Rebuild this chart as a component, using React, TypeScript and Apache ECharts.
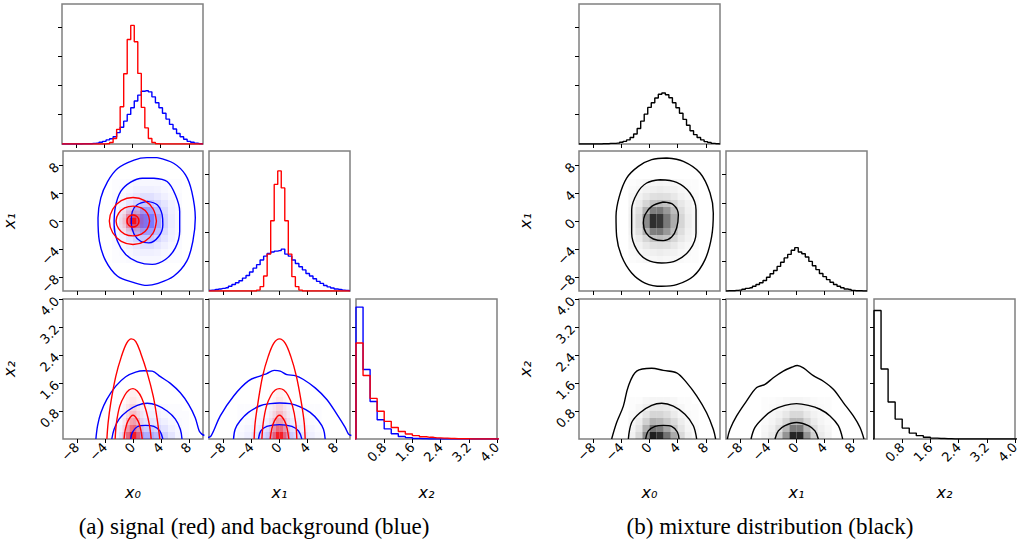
import React, { useEffect, useRef } from "react";
import * as echarts from "echarts";

// ---------- tick labels ----------
const TICKS_X01 = [-8, -4, 0, 4, 8];
const TICKS_X2 = [0.8, 1.6, 2.4, 3.2, 4.0];
const TICKS_HIST = [1, 2, 3, 4];

// ---------- 1D histograms ----------
const CENTERS_X01 = [-10, -9.5, -9, -8.5, -8, -7.5, -7, -6.5, -6, -5.5, -5, -4.5, -4, -3.5, -3, -2.5, -2, -1.5, -1, -0.5, 0, 0.5, 1, 1.5, 2, 2.5, 3, 3.5, 4, 4.5, 5, 5.5, 6, 6.5, 7, 7.5, 8, 8.5, 9, 9.5, 10];
const RED_X0 = [0, 0, 0, 0, 0, 0, 0, 0, 0, 0, 0, 0, 0, 0.01, 0.05, 0.19, 0.5, 1.27, 2.4, 3.57, 4.05, 3.49, 2.41, 1.25, 0.55, 0.19, 0.05, 0.01, 0, 0, 0, 0, 0, 0, 0, 0, 0, 0, 0, 0, 0];
const BLUE_X0 = [0, 0, 0, 0, 0, 0, 0.01, 0.01, 0.01, 0.02, 0.03, 0.06, 0.09, 0.14, 0.18, 0.25, 0.39, 0.57, 0.78, 1.01, 1.24, 1.47, 1.67, 1.8, 1.82, 1.78, 1.61, 1.41, 1.24, 1.05, 0.85, 0.67, 0.51, 0.36, 0.25, 0.16, 0.09, 0.06, 0.03, 0.01, 0.01];
const RED_X1 = [0, 0, 0, 0, 0, 0, 0, 0, 0, 0, 0, 0, 0, 0, 0.03, 0.15, 0.51, 1.26, 2.4, 3.64, 4.1, 3.52, 2.4, 1.26, 0.49, 0.15, 0.03, 0, 0, 0, 0, 0, 0, 0, 0, 0, 0, 0, 0, 0, 0];
const BLUE_X1 = [0.02, 0.03, 0.05, 0.07, 0.09, 0.11, 0.16, 0.22, 0.28, 0.35, 0.44, 0.53, 0.65, 0.78, 0.9, 1.06, 1.19, 1.28, 1.33, 1.36, 1.38, 1.43, 1.26, 1.19, 1.06, 0.94, 0.83, 0.72, 0.6, 0.51, 0.42, 0.33, 0.26, 0.19, 0.14, 0.1, 0.07, 0.05, 0.03, 0.02, 0.01];
const MIX_X0 = [0, 0, 0, 0, 0, 0, 0, 0.01, 0.01, 0.02, 0.02, 0.03, 0.06, 0.09, 0.14, 0.22, 0.34, 0.53, 0.78, 1.02, 1.25, 1.41, 1.57, 1.7, 1.74, 1.68, 1.58, 1.41, 1.24, 1.05, 0.84, 0.64, 0.45, 0.32, 0.22, 0.14, 0.08, 0.05, 0.02, 0.01, 0];
const MIX_X1 = [0, 0.01, 0.01, 0.02, 0.03, 0.06, 0.09, 0.11, 0.16, 0.22, 0.28, 0.36, 0.47, 0.59, 0.7, 0.84, 0.98, 1.13, 1.25, 1.39, 1.48, 1.33, 1.27, 1.16, 1.01, 0.86, 0.73, 0.6, 0.49, 0.39, 0.3, 0.22, 0.16, 0.11, 0.07, 0.05, 0.02, 0.01, 0.01, 0, 0];

const CENTERS_X2 = [-0.1, 0.1, 0.3, 0.5, 0.7, 0.9, 1.1, 1.3, 1.5, 1.7, 1.9, 2.1, 2.3, 2.5, 2.7, 2.9, 3.1, 3.3, 3.5, 3.7, 3.9, 4.1];
const BLUE_X2 = [0, 4.71, 2.48, 1.34, 0.69, 0.36, 0.19, 0.09, 0.05, 0.02, 0.01, 0, 0, 0, 0, 0, 0, 0, 0, 0, 0, 0];
const RED_X2 = [0, 3.43, 2.27, 1.45, 0.99, 0.63, 0.41, 0.27, 0.18, 0.12, 0.08, 0.06, 0.04, 0.03, 0.02, 0.01, 0.01, 0, 0, 0, 0, 0];
const MIX_X2 = [0, 4.59, 2.5, 1.32, 0.71, 0.39, 0.21, 0.12, 0.06, 0.03, 0.02, 0.01, 0, 0, 0, 0, 0, 0, 0, 0, 0, 0];

// ---------- 2D histogram shading (cell centres + intensities) ----------
const B01_XC = [-2.5, -1.5, -0.5, 0.5, 1.5, 2.5, 3.5, 4.5, 5.5, 6.5];
const B01_YC = [5.5, 4.5, 3.5, 2.5, 1.5, 0.5, -0.5, -1.5, -2.5, -3.5, -4.5, -5.5];
const BLUE_01 = [
  [0.01, 0.01, 0.02, 0.03, 0.03, 0.03, 0.03, 0.02, 0.01, 0.01],
  [0.01, 0.02, 0.03, 0.05, 0.06, 0.06, 0.05, 0.03, 0.02, 0.01],
  [0.02, 0.03, 0.06, 0.09, 0.12, 0.12, 0.09, 0.06, 0.03, 0.02],
  [0.02, 0.05, 0.1, 0.16, 0.22, 0.22, 0.16, 0.1, 0.05, 0.02],
  [0.03, 0.06, 0.14, 0.26, 0.38, 0.38, 0.26, 0.14, 0.06, 0.03],
  [0.03, 0.07, 0.17, 0.34, 0.52, 0.52, 0.34, 0.17, 0.07, 0.03],
  [0.03, 0.07, 0.17, 0.34, 0.52, 0.52, 0.34, 0.17, 0.07, 0.03],
  [0.03, 0.06, 0.14, 0.26, 0.38, 0.38, 0.26, 0.14, 0.06, 0.03],
  [0.02, 0.05, 0.1, 0.16, 0.22, 0.22, 0.16, 0.1, 0.05, 0.02],
  [0.02, 0.03, 0.06, 0.09, 0.12, 0.12, 0.09, 0.06, 0.03, 0.02],
  [0.01, 0.02, 0.03, 0.05, 0.06, 0.06, 0.05, 0.03, 0.02, 0.01],
  [0.01, 0.01, 0.02, 0.03, 0.03, 0.03, 0.03, 0.02, 0.01, 0.01],
];
const R01_C = [-1.75, -1.25, -0.75, -0.25, 0.25, 0.75, 1.25, 1.75];
const R01_YC = [1.75, 1.25, 0.75, 0.25, -0.25, -0.75, -1.25, -1.75];
const RED_01 = [
  [0.02, 0.04, 0.06, 0.08, 0.08, 0.06, 0.04, 0.02],
  [0.04, 0.08, 0.15, 0.2, 0.2, 0.15, 0.08, 0.04],
  [0.06, 0.15, 0.35, 0.5, 0.5, 0.35, 0.15, 0.06],
  [0.08, 0.2, 0.5, 0.9, 0.9, 0.5, 0.2, 0.08],
  [0.08, 0.2, 0.5, 0.9, 0.9, 0.5, 0.2, 0.08],
  [0.06, 0.15, 0.35, 0.5, 0.5, 0.35, 0.15, 0.06],
  [0.04, 0.08, 0.15, 0.2, 0.2, 0.15, 0.08, 0.04],
  [0.02, 0.04, 0.06, 0.08, 0.08, 0.06, 0.04, 0.02],
];
const RX2_XC = [-1.25, -0.75, -0.25, 0.25, 0.75, 1.25];
const RX2_YC = [1.3, 1.1, 0.9, 0.7, 0.5, 0.3, 0.1];
const RED_02 = [
  [0.02, 0.04, 0.06, 0.06, 0.04, 0.02],
  [0.02, 0.05, 0.09, 0.09, 0.05, 0.02],
  [0.03, 0.08, 0.14, 0.14, 0.08, 0.03],
  [0.05, 0.12, 0.22, 0.22, 0.12, 0.05],
  [0.07, 0.2, 0.32, 0.32, 0.2, 0.07],
  [0.1, 0.32, 0.52, 0.52, 0.32, 0.1],
  [0.18, 0.5, 0.85, 0.85, 0.5, 0.18],
];
const RED_12 = [
  [0.02, 0.04, 0.06, 0.06, 0.04, 0.02],
  [0.02, 0.05, 0.09, 0.09, 0.05, 0.02],
  [0.03, 0.08, 0.14, 0.14, 0.08, 0.03],
  [0.05, 0.12, 0.22, 0.22, 0.12, 0.05],
  [0.07, 0.2, 0.32, 0.32, 0.2, 0.07],
  [0.1, 0.32, 0.52, 0.52, 0.32, 0.1],
  [0.18, 0.5, 0.85, 0.85, 0.5, 0.18],
];
const X2_YC = [0.9, 0.7, 0.5, 0.3, 0.1];
const B02_XC = [-2.5, -1.5, -0.5, 0.5, 1.5, 2.5, 3.5, 4.5, 5.5, 6.5, 7.5];
const BLUE_02 = [
  [0.01, 0.01, 0.02, 0.03, 0.04, 0.04, 0.03, 0.02, 0.01, 0.01, 0],
  [0.01, 0.02, 0.03, 0.05, 0.06, 0.06, 0.05, 0.03, 0.02, 0.01, 0.01],
  [0.02, 0.03, 0.06, 0.09, 0.11, 0.11, 0.09, 0.06, 0.03, 0.02, 0.01],
  [0.03, 0.06, 0.11, 0.16, 0.2, 0.2, 0.16, 0.11, 0.06, 0.03, 0.01],
  [0.04, 0.1, 0.18, 0.27, 0.32, 0.32, 0.27, 0.18, 0.1, 0.04, 0.02],
];
const B12_XC = [-5.5, -4.5, -3.5, -2.5, -1.5, -0.5, 0.5, 1.5, 2.5, 3.5, 4.5, 5.5];
const BLUE_12 = [
  [0.01, 0.01, 0.01, 0.02, 0.03, 0.03, 0.03, 0.03, 0.02, 0.01, 0.01, 0.01],
  [0.01, 0.01, 0.02, 0.03, 0.04, 0.05, 0.05, 0.04, 0.03, 0.02, 0.01, 0.01],
  [0.01, 0.02, 0.04, 0.05, 0.07, 0.09, 0.09, 0.07, 0.05, 0.04, 0.02, 0.01],
  [0.02, 0.04, 0.06, 0.09, 0.13, 0.15, 0.15, 0.13, 0.09, 0.06, 0.04, 0.02],
  [0.03, 0.06, 0.1, 0.15, 0.2, 0.23, 0.23, 0.2, 0.15, 0.1, 0.06, 0.03],
];
const K01_XC = [-2.5, -1.5, -0.5, 0.5, 1.5, 2.5, 3.5, 4.5, 5.5, 6.5];
const K01_YC = [5.5, 4.5, 3.5, 2.5, 1.5, 0.5, -0.5, -1.5, -2.5, -3.5, -4.5, -5.5];
const BLACK_01 = [
  [0.01, 0.02, 0.03, 0.03, 0.04, 0.03, 0.03, 0.02, 0.01, 0.01],
  [0.02, 0.03, 0.05, 0.06, 0.07, 0.06, 0.05, 0.03, 0.02, 0.01],
  [0.03, 0.05, 0.09, 0.12, 0.13, 0.12, 0.09, 0.05, 0.03, 0.02],
  [0.04, 0.08, 0.16, 0.24, 0.26, 0.23, 0.16, 0.09, 0.05, 0.02],
  [0.05, 0.12, 0.3, 0.5, 0.52, 0.4, 0.26, 0.13, 0.06, 0.03],
  [0.06, 0.15, 0.45, 0.82, 0.78, 0.52, 0.32, 0.16, 0.07, 0.03],
  [0.06, 0.15, 0.45, 0.82, 0.78, 0.52, 0.32, 0.16, 0.07, 0.03],
  [0.05, 0.12, 0.3, 0.5, 0.52, 0.4, 0.26, 0.13, 0.06, 0.03],
  [0.04, 0.08, 0.16, 0.24, 0.26, 0.23, 0.16, 0.09, 0.05, 0.02],
  [0.03, 0.05, 0.09, 0.12, 0.13, 0.12, 0.09, 0.05, 0.03, 0.02],
  [0.02, 0.03, 0.05, 0.06, 0.07, 0.06, 0.05, 0.03, 0.02, 0.01],
  [0.01, 0.02, 0.03, 0.03, 0.04, 0.03, 0.03, 0.02, 0.01, 0.01],
];
const K2_YC = [1.1, 0.9, 0.7, 0.5, 0.3, 0.1];
const K02_XC = [-2.5, -1.5, -0.5, 0.5, 1.5, 2.5, 3.5, 4.5, 5.5, 6.5];
const BLACK_02 = [
  [0.01, 0.01, 0.03, 0.04, 0.04, 0.04, 0.03, 0.01, 0.01, 0],
  [0.01, 0.03, 0.06, 0.09, 0.09, 0.08, 0.05, 0.03, 0.01, 0.01],
  [0.02, 0.04, 0.1, 0.16, 0.16, 0.13, 0.08, 0.04, 0.02, 0.01],
  [0.03, 0.07, 0.18, 0.3, 0.28, 0.21, 0.14, 0.07, 0.03, 0.01],
  [0.04, 0.1, 0.3, 0.55, 0.5, 0.35, 0.22, 0.1, 0.04, 0.02],
  [0.05, 0.15, 0.45, 0.88, 0.82, 0.55, 0.33, 0.15, 0.06, 0.02],
];
const K12_XC = [-4.5, -3.5, -2.5, -1.5, -0.5, 0.5, 1.5, 2.5, 3.5, 4.5];
const BLACK_12 = [
  [0.01, 0.01, 0.02, 0.03, 0.04, 0.04, 0.03, 0.02, 0.01, 0.01],
  [0.01, 0.02, 0.03, 0.05, 0.08, 0.08, 0.05, 0.03, 0.02, 0.01],
  [0.01, 0.03, 0.05, 0.09, 0.15, 0.15, 0.09, 0.05, 0.03, 0.01],
  [0.02, 0.04, 0.08, 0.16, 0.28, 0.28, 0.16, 0.08, 0.04, 0.02],
  [0.03, 0.06, 0.13, 0.28, 0.52, 0.52, 0.28, 0.13, 0.06, 0.03],
  [0.04, 0.08, 0.18, 0.42, 0.85, 0.85, 0.42, 0.18, 0.08, 0.04],
];

// ---------- contour lines ----------
const BLUE01_OUT = [[3.45, 9.05], [5.8, 8.25], [7.5, 6.6], [8.4, 4.2], [8.9, 0.43], [8.55, -2.9], [7.7, -5.7], [5.8, -7.9], [3.45, -8.95], [2.0, -9.2], [0.15, -8.8], [-2.2, -7.9], [-3.9, -5.7], [-4.8, -2.9], [-5.0, 0.43], [-4.6, 3.3], [-3.65, 5.6], [-2.2, 7.5], [0.15, 8.7], [2.0, 9.05], [3.45, 9.05]];
const BLUE01_MID = [[2.98, 6.11], [4.87, 5.64], [6.05, 3.74], [6.67, 1.37], [6.67, -1.47], [6.05, -3.84], [4.63, -5.5], [2.74, -6.2], [0.61, -5.83], [-1.04, -4.79], [-2.22, -2.89], [-2.7, -0.52], [-2.55, 1.85], [-1.75, 4.22], [-0.33, 5.55], [1.32, 6.11], [2.98, 6.11]];
const BLUE01_IN = [[2.03, 2.8], [3.45, 2.32], [4.16, 0.9], [4.26, -0.52], [3.69, -2.18], [2.27, -3.13], [1.09, -2.89], [0.14, -1.85], [-0.24, -0.28], [-0.09, 1.37], [0.61, 2.32], [2.03, 2.8]];
const RED01_OUT = [[3.35, 0], [2.9, 1.68], [1.68, 2.9], [0, 3.35], [-1.68, 2.9], [-2.9, 1.68], [-3.38, 0], [-2.9, -1.68], [-1.68, -2.9], [0, -3.35], [1.68, -2.9], [2.9, -1.68], [3.35, 0]];
const RED01_MID = [[2.38, 0], [2.06, 1.08], [1.19, 1.86], [0, 2.12], [-1.19, 1.86], [-2.06, 1.08], [-2.42, 0], [-2.06, -1.08], [-1.19, -1.86], [0, -2.12], [1.19, -1.86], [2.06, -1.08], [2.38, 0]];
const RED01_IN = [[0.85, 0], [0.74, 0.43], [0.43, 0.74], [0, 0.85], [-0.43, 0.74], [-0.74, 0.43], [-0.85, 0], [-0.74, -0.43], [-0.43, -0.74], [0, -0.85], [0.43, -0.74], [0.74, -0.43], [0.85, 0]];

const RED02_OUT = [[-3.73, 0], [-3.55, 0.47], [-3.17, 1.04], [-2.46, 1.79], [-1.65, 2.36], [-0.9, 2.74], [-0.24, 2.86], [0.38, 2.79], [1.09, 2.46], [2.03, 1.89], [2.88, 1.23], [3.45, 0.57], [3.83, 0]];
const RED02_MID = [[-2.55, 0], [-2.36, 0.47], [-1.89, 0.94], [-1.18, 1.25], [-0.57, 1.4], [0, 1.44], [0.61, 1.37], [1.23, 1.18], [1.89, 0.8], [2.36, 0.38], [2.6, 0]];
const RED02_IN = [[-1.28, 0], [-1.09, 0.28], [-0.71, 0.52], [0, 0.68], [0.71, 0.52], [1.09, 0.28], [1.32, 0]];
const BLUE02_OUT = [[-5.3, 0], [-5.06, 0.38], [-4.59, 0.75], [-3.74, 1.13], [-2.46, 1.51], [-1.04, 1.78], [0.38, 1.91], [1.56, 1.95], [2.74, 1.94], [3.92, 1.78], [5.34, 1.59], [6.76, 1.32], [7.94, 0.99], [8.89, 0.61], [9.46, 0.23], [9.83, 0.14], [10.2, 0.1]];
const BLUE02_MID = [[-3.03, 0], [-2.7, 0.28], [-1.99, 0.57], [-0.8, 0.8], [0.61, 0.96], [2.03, 1.02], [3.45, 0.96], [4.87, 0.8], [6.05, 0.57], [6.76, 0.28], [7.0, 0]];
const BLUE02_IN = [[-0.33, 0], [-0.09, 0.19], [0.61, 0.35], [1.8, 0.39], [2.98, 0.36], [3.83, 0.23], [4.26, 0]];

const RED12_OUT = [[-3.6, 0], [-3.45, 0.47], [-3.05, 1.04], [-2.4, 1.79], [-1.6, 2.36], [-0.8, 2.74], [0, 2.86], [0.8, 2.74], [1.6, 2.36], [2.4, 1.79], [3.1, 1.04], [3.5, 0.47], [3.64, 0]];
const RED12_MID = [[-2.5, 0], [-2.3, 0.47], [-1.85, 0.94], [-1.2, 1.25], [-0.6, 1.4], [0, 1.44], [0.6, 1.4], [1.2, 1.25], [1.85, 0.94], [2.3, 0.47], [2.46, 0]];
const RED12_IN = [[-1.32, 0], [-1.1, 0.28], [-0.72, 0.52], [0, 0.68], [0.72, 0.52], [1.1, 0.28], [1.32, 0]];
const BLUE12_OUT = [[-10.2, 0.04], [-9.7, 0.09], [-8.4, 0.66], [-6.5, 1.23], [-4.4, 1.66], [-2.5, 1.82], [-1.8, 1.87], [-0.76, 1.96], [0.1, 1.94], [1.04, 1.84], [2.22, 1.81], [3.4, 1.7], [5.06, 1.46], [6.71, 1.13], [8.13, 0.71], [9.31, 0.33], [9.79, 0.14], [10.2, 0.1]];
const BLUE12_MID = [[-6.52, 0], [-6.29, 0.28], [-5.58, 0.52], [-4.4, 0.76], [-2.74, 0.95], [-1.32, 1.01], [0, 1.03], [1.51, 1.01], [2.93, 0.92], [4.35, 0.76], [5.53, 0.52], [6.24, 0.28], [6.48, 0]];
const BLUE12_IN = [[-2.98, 0], [-2.65, 0.23], [-1.8, 0.36], [0, 0.41], [1.75, 0.36], [2.7, 0.23], [3.17, 0]];

const BLACK01_OUT = [[2.43, 9.0], [4.8, 8.52], [7.17, 6.86], [8.59, 4.0], [9.05, 1.14], [8.82, -2.19], [7.88, -5.52], [6.22, -7.9], [3.85, -9.1], [1.73, -9.33], [-0.64, -8.86], [-2.53, -7.43], [-3.95, -5.05], [-4.66, -2.19], [-4.75, 0.67], [-4.28, 3.52], [-3.24, 6.14], [-1.58, 7.81], [0.31, 8.76], [2.43, 9.0]];
const BLACK01_MID = [[1.49, 5.9], [3.85, 5.52], [5.74, 4.0], [6.6, 1.62], [6.6, -1.71], [5.74, -4.1], [3.85, -5.62], [1.73, -6.0], [-0.4, -5.52], [-1.82, -4.1], [-2.53, -1.71], [-2.53, 1.62], [-1.73, 4.0], [-0.4, 5.43], [1.49, 5.9]];
const BLACK01_IN = [[1.96, 2.71], [3.38, 2.33], [4.09, 0.9], [3.85, -1.0], [3.14, -2.29], [1.96, -2.81], [0.54, -2.57], [-0.5, -1.71], [-0.87, -0.29], [-0.64, 0.9], [0.31, 2.1], [1.96, 2.71]];
const BLACK02_OUT = [[-5.37, 0], [-4.66, 0.47], [-3.71, 0.94], [-3.0, 1.51], [-1.82, 1.94], [0.31, 2.02], [1.96, 1.96], [3.85, 1.89], [5.27, 1.61], [6.69, 1.23], [8.1, 0.75], [9.05, 0.28], [9.38, 0]];
const BLACK02_MID = [[-3.0, 0], [-2.53, 0.47], [-1.35, 0.75], [0.31, 0.96], [1.73, 1.02], [3.38, 0.94], [5.03, 0.71], [6.22, 0.38], [6.69, 0]];
const BLACK02_IN = [[-0.54, 0], [-0.17, 0.23], [0.78, 0.36], [1.96, 0.39], [3.14, 0.36], [3.95, 0.2], [4.19, 0]];
const BLACK12_OUT = [[-9.81, 0], [-9.43, 0.28], [-8.49, 0.66], [-7.07, 1.09], [-5.65, 1.47], [-4.47, 1.56], [-3.29, 1.75], [-1.87, 1.94], [-0.69, 2.05], [0.12, 2.1], [0.97, 2.03], [2.39, 1.81], [3.81, 1.65], [5.22, 1.42], [6.64, 1.04], [8.06, 0.66], [9.01, 0.33], [9.57, 0]];
const BLACK12_MID = [[-6.45, 0], [-5.89, 0.33], [-4.7, 0.61], [-3.29, 0.83], [-1.63, 0.96], [0, 1.01], [1.68, 0.96], [3.33, 0.85], [4.75, 0.66], [5.93, 0.38], [6.55, 0]];
const BLACK12_IN = [[-3.05, 0], [-2.58, 0.23], [-1.63, 0.38], [0, 0.47], [1.68, 0.38], [2.62, 0.23], [3.1, 0]];

const CAPTION_A = "(a) signal (red) and background (blue)";
const CAPTION_B = "(b) mixture distribution (black)";

// ---------- layout ----------
const LEFT_COLS = [62, 209, 356];
const RIGHT_COLS = [579, 726, 874];
const ROWS = [4, 151, 299];
const PW = 141;
const PH = 140;

const BLUE = "#0000ff";
const RED = "#ff0000";
const BLACK = "#000000";

function fmtX01(v: number) {
  return String(v).replace("-", "\u2212");
}
function fmtX2(v: number) {
  return v.toFixed(1);
}

const labelFont = { fontFamily: "DejaVu Sans", fontSize: 13, color: "#000" };
const nameFont = { fontFamily: "DejaVu Sans", fontSize: 16, fontStyle: "italic", color: "#000" };

type AxisKind = "x01" | "x2" | "h48" | "h5";

function makeAxis(kind: AxisKind, gridIndex: number, showLabels: boolean, name: string, isX: boolean) {
  let min = -10, max = 10, ticks = TICKS_X01, fmt: any = fmtX01;
  if (kind === "x2") { min = 0; max = 4; ticks = TICKS_X2; fmt = fmtX2; }
  if (kind === "h48") { min = 0; max = 4.78; ticks = TICKS_HIST; }
  if (kind === "h5") { min = 0; max = 5; ticks = TICKS_HIST; }
  return {
    gridIndex,
    type: "value",
    position: isX ? "bottom" : "left",
    min,
    max,
    splitLine: { show: false },
    axisLine: { show: false, onZero: false },
    axisTick: { show: true, inside: false, length: 4, customValues: ticks, lineStyle: { color: "#000", width: 1 } },
    axisLabel: {
      show: showLabels,
      customValues: ticks,
      rotate: 45,
      margin: 6,
      formatter: fmt,
      ...labelFont,
    },
    name: name || "",
    nameLocation: "middle",
    nameGap: isX ? 45 : 46,
    nameTextStyle: nameFont,
  };
}

function buildCells(xc: number[], yc: number[], mat: number[][]) {
  const out: number[][] = [];
  yc.forEach((y, i) => xc.forEach((x, j) => { if (mat[i][j] > 0) out.push([x, y, mat[i][j]]); }));
  return out;
}

function cellSeries(idx: number, xc: number[], yc: number[], mat: number[][], w: number, h: number, rgb: string) {
  return {
    type: "custom",
    xAxisIndex: idx,
    yAxisIndex: idx,
    encode: { x: 0, y: 1 },
    data: buildCells(xc, yc, mat),
    silent: true,
    renderItem: (params: any, api: any) => {
      const x = api.value(0), y = api.value(1), v = api.value(2);
      const a = api.coord([x - w / 2, y + h / 2]);
      const b = api.coord([x + w / 2, y - h / 2]);
      return {
        type: "rect",
        shape: { x: a[0], y: a[1], width: b[0] - a[0], height: b[1] - a[1] },
        style: { fill: `rgba(${rgb},${v})`, stroke: null },
      };
    },
  };
}

function histSeries(idx: number, centers: number[], vals: number[], color: string) {
  return {
    type: "line",
    xAxisIndex: idx,
    yAxisIndex: idx,
    step: "middle",
    symbol: "none",
    silent: true,
    data: centers.map((c, i) => [c, vals[i]]),
    lineStyle: { color, width: 1.4 },
  };
}

function contourSeries(idx: number, pts: number[][], color: string) {
  return {
    type: "line",
    xAxisIndex: idx,
    yAxisIndex: idx,
    symbol: "none",
    smooth: 0.35,
    silent: true,
    data: pts,
    lineStyle: { color, width: 1.4 },
  };
}

export default function App() {
  const ref = useRef<HTMLDivElement>(null);
  useEffect(() => {
    if (!ref.current) return;
    const chart = echarts.init(ref.current, null, { renderer: "svg" });

    const grids: any[] = [];
    const xAxes: any[] = [];
    const yAxes: any[] = [];
    // panel order per half: 0 hist x0, 1 x0-x1, 2 hist x1, 3 x0-x2, 4 x1-x2, 5 hist x2
    const halfSpecs = [
      { c: 0, r: 0, xk: "x01", yk: "h48", xl: false, yl: false, xn: "", yn: "" },
      { c: 0, r: 1, xk: "x01", yk: "x01", xl: false, yl: true, xn: "", yn: "x\u2081" },
      { c: 1, r: 1, xk: "x01", yk: "h48", xl: false, yl: false, xn: "", yn: "" },
      { c: 0, r: 2, xk: "x01", yk: "x2", xl: true, yl: true, xn: "x\u2080", yn: "x\u2082" },
      { c: 1, r: 2, xk: "x01", yk: "x2", xl: true, yl: false, xn: "x\u2081", yn: "" },
      { c: 2, r: 2, xk: "x2", yk: "h5", xl: true, yl: false, xn: "x\u2082", yn: "" },
    ];
    [LEFT_COLS, RIGHT_COLS].forEach((cols) => {
      halfSpecs.forEach((s) => {
        const gi = grids.length;
        grids.push({
          left: cols[s.c],
          top: ROWS[s.r],
          width: PW,
          height: PH,
          show: true,
          borderColor: "#808080",
          borderWidth: 1.5,
          backgroundColor: "transparent",
        });
        xAxes.push(makeAxis(s.xk as AxisKind, gi, s.xl, s.xn, true));
        yAxes.push(makeAxis(s.yk as AxisKind, gi, s.yl, s.yn, false));
      });
    });

    const series: any[] = [
      // left half
      histSeries(0, CENTERS_X01, BLUE_X0, BLUE),
      histSeries(0, CENTERS_X01, RED_X0, RED),
      cellSeries(1, B01_XC, B01_YC, BLUE_01, 1, 1, "0,0,255"),
      cellSeries(1, R01_C, R01_YC, RED_01, 0.5, 0.5, "255,0,0"),
      contourSeries(1, BLUE01_OUT, BLUE),
      contourSeries(1, BLUE01_MID, BLUE),
      contourSeries(1, BLUE01_IN, BLUE),
      contourSeries(1, RED01_OUT, RED),
      contourSeries(1, RED01_MID, RED),
      contourSeries(1, RED01_IN, RED),
      histSeries(2, CENTERS_X01, BLUE_X1, BLUE),
      histSeries(2, CENTERS_X01, RED_X1, RED),
      cellSeries(3, B02_XC, X2_YC, BLUE_02, 1, 0.2, "0,0,255"),
      cellSeries(3, RX2_XC, RX2_YC, RED_02, 0.5, 0.2, "255,0,0"),
      contourSeries(3, BLUE02_OUT, BLUE),
      contourSeries(3, BLUE02_MID, BLUE),
      contourSeries(3, BLUE02_IN, BLUE),
      contourSeries(3, RED02_OUT, RED),
      contourSeries(3, RED02_MID, RED),
      contourSeries(3, RED02_IN, RED),
      cellSeries(4, B12_XC, X2_YC, BLUE_12, 1, 0.2, "0,0,255"),
      cellSeries(4, RX2_XC, RX2_YC, RED_12, 0.5, 0.2, "255,0,0"),
      contourSeries(4, BLUE12_OUT, BLUE),
      contourSeries(4, BLUE12_MID, BLUE),
      contourSeries(4, BLUE12_IN, BLUE),
      contourSeries(4, RED12_OUT, RED),
      contourSeries(4, RED12_MID, RED),
      contourSeries(4, RED12_IN, RED),
      histSeries(5, CENTERS_X2, BLUE_X2, BLUE),
      histSeries(5, CENTERS_X2, RED_X2, RED),
      // right half
      histSeries(6, CENTERS_X01, MIX_X0, BLACK),
      cellSeries(7, K01_XC, K01_YC, BLACK_01, 1, 1, "0,0,0"),
      contourSeries(7, BLACK01_OUT, BLACK),
      contourSeries(7, BLACK01_MID, BLACK),
      contourSeries(7, BLACK01_IN, BLACK),
      histSeries(8, CENTERS_X01, MIX_X1, BLACK),
      cellSeries(9, K02_XC, K2_YC, BLACK_02, 1, 0.2, "0,0,0"),
      contourSeries(9, BLACK02_OUT, BLACK),
      contourSeries(9, BLACK02_MID, BLACK),
      contourSeries(9, BLACK02_IN, BLACK),
      cellSeries(10, K12_XC, K2_YC, BLACK_12, 1, 0.2, "0,0,0"),
      contourSeries(10, BLACK12_OUT, BLACK),
      contourSeries(10, BLACK12_MID, BLACK),
      contourSeries(10, BLACK12_IN, BLACK),
      histSeries(11, CENTERS_X2, MIX_X2, BLACK),
    ];

    chart.setOption({
      animation: false,
      backgroundColor: "#ffffff",
      grid: grids,
      xAxis: xAxes,
      yAxis: yAxes,
      series,
      graphic: [
        {
          type: "text",
          x: 254,
          y: 526,
          style: { text: CAPTION_A, fontFamily: "Liberation Serif", fontSize: 23, fill: "#000", align: "center", verticalAlign: "middle" },
        },
        {
          type: "text",
          x: 770,
          y: 526,
          style: { text: CAPTION_B, fontFamily: "Liberation Serif", fontSize: 23, fill: "#000", align: "center", verticalAlign: "middle" },
        },
      ],
    });
    return () => chart.dispose();
  }, []);
  return <div ref={ref} style={{ position: "fixed", left: 0, top: 0, width: 1026, height: 542 }} />;
}
